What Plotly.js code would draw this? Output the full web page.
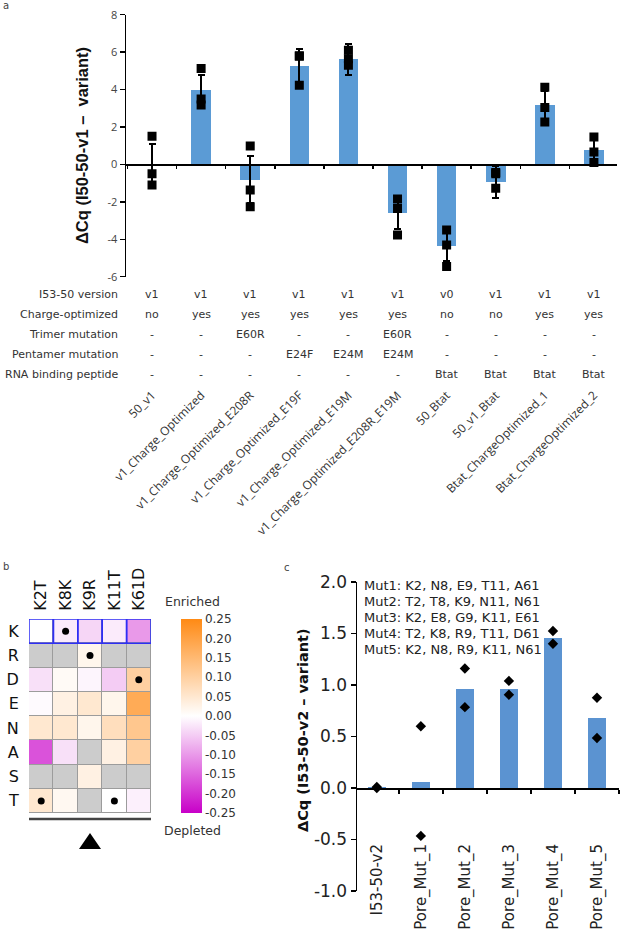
<!DOCTYPE html>
<html>
<head>
<meta charset="utf-8">
<script src="https://cdn.plot.ly/plotly-3.0.1.min.js"></script>
<style>
  html, body { margin: 0; padding: 0; background: #fff; }
  #fig { width: 621px; height: 932px; }
</style>
</head>
<body>
<div id="fig"></div>
<script>
// Panel a: qPCR dCq per construct (bars = mean, error = SD, squares = replicates)
const aNames = ["50_v1", "v1_Charge_Optimized", "v1_Charge_Optimized_E208R",
  "v1_Charge_Optimized_E19F", "v1_Charge_Optimized_E19M", "v1_Charge_Optimized_E208R_E19M",
  "50_Btat", "50_v1_Btat", "Btat_ChargeOptimized_1", "Btat_ChargeOptimized_2"];
const aMeans = [-0.03, 3.95, -0.82, 5.26, 5.62, -2.62, -4.37, -0.93, 3.15, 0.76];
const aSD    = [1.12, 0.85, 1.25, 0.93, 0.82, 0.82, 0.80, 0.87, 0.76, 0.57];
const aPoints = [
  [1.5, -0.5, -1.1],
  [5.12, 3.5, 3.18],
  [0.99, -1.37, -2.26],
  [5.78, 5.8, 4.23],
  [6.1, 5.65, 5.3],
  [-1.85, -2.35, -3.77],
  [-3.5, -4.3, -5.46],
  [-0.43, -0.5, -1.28],
  [4.12, 3.04, 2.27],
  [1.47, 0.67, 0.1],
];
const aTickVals = [-6, -4, -2, 0, 2, 4, 6, 8];
const aTickText = ["-6", "-4", "-2", "0", "2", "4", "6", "8"];

// table under panel a
const rowLabels = ["I53-50 version", "Charge-optimized", "Trimer mutation",
  "Pentamer mutation", "RNA binding peptide"];
const versionRow  = ["v1", "v1", "v1", "v1", "v1", "v1", "v0", "v1", "v1", "v1"];
const chargeRow   = ["no", "yes", "yes", "yes", "yes", "yes", "no", "no", "yes", "yes"];
const trimerRow   = ["-", "-", "E60R", "-", "-", "E60R", "-", "-", "-", "-"];
const pentamerRow = ["-", "-", "-", "E24F", "E24M", "E24M", "-", "-", "-", "-"];
const rnaRow      = ["-", "-", "-", "-", "-", "-", "Btat", "Btat", "Btat", "Btat"];

// Panel b: enrichment heatmap
const bCols = ["K2T", "K8K", "K9R", "K11T", "K61D"];
const bRows = ["K", "R", "D", "E", "N", "A", "S", "T"];
const bZ = [
  [0.0,   -0.02, -0.04,  -0.02, -0.10],
  [null,  null,   0.02,  null,  null],
  [-0.03, 0.01,  -0.01,  -0.05,  0.10],
  [-0.005, 0.03,  0.05,   0.02,  0.18],
  [0.05,  0.05,   0.02,   0.07,  0.12],
  [-0.17, -0.03,  null,   0.03,  0.10],
  [null,  null,   0.03,  null,  null],
  [0.05,  0.015,  null,   0.0,  -0.015],
];
const bDotCols = ["K8K", "K9R", "K61D", "K2T", "K11T"];
const bDotRows = ["K", "R", "D", "T", "T"];
const cbVals = [-0.25, -0.2, -0.15, -0.1, -0.05, 0, 0.05, 0.1, 0.15, 0.2, 0.25];
const cbText = ["-0.25", "-0.20", "-0.15", "-0.10", "-0.05", "0.00", "0.05", "0.10", "0.15", "0.20", "0.25"];

// Panel c: pore mutants
const cNames = ["I53-50-v2", "Pore_Mut_1", "Pore_Mut_2", "Pore_Mut_3", "Pore_Mut_4", "Pore_Mut_5"];
const cMeans = [0.005, 0.06, 0.965, 0.965, 1.46, 0.675];
const cPoints = [[0.01, 0.0], [0.6, -0.465], [1.16, 0.785], [1.04, 0.905], [1.525, 1.40], [0.876, 0.486]];
const cTickVals = [-1, -0.5, 0, 0.5, 1, 1.5, 2];
const cTickText = ["-1.0", "-0.5", "0.0", "0.5", "1.0", "1.5", "2.0"];
const mutLines = [
  "Mut1: K2, N8, E9, T11, A61",
  "Mut2: T2, T8, K9, N11, N61",
  "Mut3: K2, E8, G9, K11, E61",
  "Mut4: T2, K8, R9, T11, D61",
  "Mut5: K2, N8, R9, K11, N61",
];

const W = 621, H = 932;
const px = (x) => x / W;
const py = (y) => 1 - y / H;

const BLACK = "#000";
const TXT = "#333";
const DV = "DejaVu Sans";

// ---- panel a geometry
const aYDom = [py(276.7), py(14.7)];
const aYRange = [-6, 8];
const aZeroPos = aYDom[0] + (0 - aYRange[0]) / (aYRange[1] - aYRange[0]) * (aYDom[1] - aYDom[0]);
const aXRange = [-0.53, 9.47];

// ---- panel c geometry
const cYDom = [py(891), py(582)];
const cYRange = [-1, 2];
const cZeroPos = cYDom[0] + (0 - cYRange[0]) / (cYRange[1] - cYRange[0]) * (cYDom[1] - cYDom[0]);
const cXRange = [-0.45, 5.5];

const idx = (arr) => arr.map((_, i) => i);

const aPtsX = [], aPtsY = [];
aPoints.forEach((pts, i) => pts.forEach((v) => { aPtsX.push(aNames[i]); aPtsY.push(v); }));
const cPtsX = [], cPtsY = [];
cPoints.forEach((pts, i) => pts.forEach((v) => { cPtsX.push(cNames[i]); cPtsY.push(v); }));

const bNanMask = bZ.map((r) => r.map((v) => (v === null ? 1 : null)));
const bFull = bZ.map((r) => r.map(() => 1));

const traces = [
  // panel a
  { x: aNames, y: aMeans, type: "bar", width: 0.4, xaxis: "x", yaxis: "y",
    marker: { color: "#5b9bd5" }, hoverinfo: "skip",
    error_y: { type: "data", array: aSD, visible: true, color: BLACK, thickness: 2, width: 3.5 } },
  { x: aPtsX, y: aPtsY, type: "scatter", mode: "markers", xaxis: "x", yaxis: "y",
    marker: { symbol: "square", size: 9, color: BLACK } },
  { x: idx(aNames), y: aNames.map(() => 0), type: "scatter", mode: "markers", xaxis: "x2", yaxis: "y",
    marker: { opacity: 0 }, hoverinfo: "skip" },

  // panel b
  { x: bCols, y: bRows, z: bFull, type: "heatmap", xaxis: "x3", yaxis: "y3",
    colorscale: [[0, "#9c9c9c"], [1, "#9c9c9c"]], showscale: false, hoverinfo: "skip" },
  { x: bCols, y: bRows, z: bNanMask, type: "heatmap", xaxis: "x3", yaxis: "y3", xgap: 1, ygap: 1,
    colorscale: [[0, "#cccccc"], [1, "#cccccc"]], showscale: false, hoverinfo: "skip" },
  { x: bCols, y: bRows, z: bZ, type: "heatmap", xaxis: "x3", yaxis: "y3", xgap: 1, ygap: 1,
    zmin: -0.25, zmax: 0.25,
    colorscale: [[0, "#c800c8"], [0.5, "#ffffff"], [1, "#ff8a14"]],
    colorbar: {
      x: px(181), xanchor: "left", y: py(813), yanchor: "bottom",
      len: 194 / H, lenmode: "fraction", thickness: 21, thicknessmode: "pixels",
      xpad: 0, ypad: 0, outlinewidth: 0, ticks: "", ticklabelpad: 4,
      tickvals: cbVals, ticktext: cbText,
      tickfont: { family: DV, size: 12, color: TXT },
    } },
  { x: bDotCols, y: bDotRows, type: "scatter", mode: "markers", xaxis: "x3", yaxis: "y3",
    marker: { symbol: "circle", size: 7, color: BLACK }, hoverinfo: "skip" },

  // panel c
  { x: cNames, y: cMeans, type: "bar", width: 0.4, xaxis: "x4", yaxis: "y4",
    marker: { color: "#5b93d1" }, hoverinfo: "skip" },
  { x: cPtsX, y: cPtsY, type: "scatter", mode: "markers", xaxis: "x4", yaxis: "y4",
    marker: { symbol: "diamond", size: 8, color: BLACK } },
  { x: idx(cNames), y: cNames.map(() => 0), type: "scatter", mode: "markers", xaxis: "x5", yaxis: "y4",
    marker: { opacity: 0 }, hoverinfo: "skip" },
];

// paper-anchored text helper (explicit anchors, 'auto' would snap to sides)
const note = (text, x, y, font, xanchor = "center", extra = {}) => ({
  text, xref: "paper", yref: "paper", x: px(x), y: py(y), showarrow: false,
  xanchor, yanchor: "middle", font, ...extra });

const annotations = [];

// panel letters
[["a", 1, 5], ["b", 1, 566], ["c", 282, 567]].forEach(([t, x, y]) =>
  annotations.push(note(t, x, y, { family: DV, size: 10, color: "#444" }, "left")));

// axis titles
annotations.push(note("ΔCq (I50-50-v1 –\u00a0\u00a0variant)", 82, 146,
  { family: "Liberation Sans", size: 16.5, color: "#111", weight: "bold" }, "center", { textangle: -90 }));
annotations.push(note("ΔCq (I53-50-v2 – variant)", 303, 730,
  { family: DV, size: 14.5, color: "#111", weight: "bold" }, "center", { textangle: -90 }));

// table rows under panel a
const tableRows = [versionRow, chargeRow, trimerRow, pentamerRow, rnaRow];
const rowY = [294, 314, 334, 354, 374];
const tFont = { family: DV, size: 11, color: TXT };
tableRows.forEach((row, r) => {
  annotations.push(note(rowLabels[r], 120, rowY[r], tFont, "right"));
  row.forEach((v, i) => annotations.push({
    text: v, xref: "x", yref: "paper", x: aNames[i], y: py(rowY[r]),
    xanchor: "center", yanchor: "middle", showarrow: false, font: tFont }));
});

// heatmap colorbar captions
annotations.push(note("Enriched", 192, 601, { family: DV, size: 12.5, color: TXT }));
annotations.push(note("Depleted", 192, 830, { family: DV, size: 12.5, color: TXT }));

// mutant list in panel c
mutLines.forEach((t, i) =>
  annotations.push(note(t, 362, 585 + 16 * i, { family: DV, size: 13, color: "#222" }, "left")));

const shapes = [];
// blue outline around K row cells
bCols.forEach((_, i) => shapes.push({
  type: "rect", xref: "x3", yref: "y3", x0: i - 0.5, x1: i + 0.5, y0: -0.5, y1: 0.5,
  line: { color: "#2e2ef5", width: 1.5 } }));
// bar and triangle under heatmap
shapes.push({ type: "line", xref: "x3", yref: "paper", x0: -0.5, x1: bCols.length - 0.5,
  y0: py(819), y1: py(819), line: { color: "#444", width: 2.5 } });
shapes.push({ type: "path", xref: "paper", yref: "paper",
  path: `M ${px(79)} ${py(849)} L ${px(101)} ${py(849)} L ${px(90)} ${py(833)} Z`,
  fillcolor: BLACK, line: { color: BLACK, width: 0 } });

const noGrid = { showgrid: false, zeroline: false };

const layout = {
  width: W, height: H,
  margin: { l: 0, r: 0, t: 0, b: 0 },
  paper_bgcolor: "#fff", plot_bgcolor: "rgba(0,0,0,0)",
  showlegend: false, bargap: 0,
  font: { family: DV, color: TXT },

  // panel a
  xaxis: { ...noGrid, type: "category", domain: [px(126), px(617)], range: aXRange,
    anchor: "free", position: aZeroPos, showline: true, linecolor: BLACK, linewidth: 1.5,
    ticks: "outside", tickson: "boundaries", ticklen: 3, tickwidth: 1.5, tickcolor: BLACK,
    showticklabels: false },
  xaxis2: { ...noGrid, overlaying: "x", anchor: "free", position: py(385), range: aXRange,
    tickvals: idx(aNames), ticktext: aNames, tickangle: -45, ticks: "", showline: false,
    tickfont: { family: "Open Sans", size: 12, color: TXT } },
  yaxis: { ...noGrid, domain: aYDom, range: aYRange, anchor: "x", showline: true,
    linecolor: BLACK, linewidth: 1.5, ticks: "outside", ticklen: 5, tickwidth: 1.5, tickcolor: BLACK,
    tickvals: aTickVals, ticktext: aTickText,
    tickfont: { family: "Open Sans", size: 11, color: "#444" } },

  // panel b
  xaxis3: { ...noGrid, type: "category", domain: [px(29), px(151)], anchor: "y3", side: "top",
    range: [-0.5, bCols.length - 0.5], tickangle: -90, ticks: "outside", ticklen: 4,
    tickcolor: "rgba(0,0,0,0)", tickfont: { family: DV, size: 16, color: "#111" }, showline: false },
  yaxis3: { ...noGrid, type: "category", domain: [py(813), py(619)], anchor: "x3",
    range: [bRows.length - 0.5, -0.5], ticks: "outside", ticklen: 6,
    tickcolor: "rgba(0,0,0,0)", tickfont: { family: DV, size: 16, color: "#111" }, showline: false },

  // panel c
  xaxis4: { ...noGrid, type: "category", domain: [px(357), px(619)], range: cXRange,
    anchor: "free", position: cZeroPos, showline: true, linecolor: BLACK, linewidth: 1.5,
    ticks: "outside", tickson: "boundaries", ticklen: 4, tickwidth: 1.5, tickcolor: BLACK,
    showticklabels: false },
  xaxis5: { ...noGrid, overlaying: "x4", anchor: "free", position: py(840), range: cXRange,
    tickvals: idx(cNames), ticktext: cNames, tickangle: -90, ticks: "", showline: false,
    tickfont: { family: DV, size: 15, color: "#222" } },
  yaxis4: { ...noGrid, domain: cYDom, range: cYRange, anchor: "x4", showline: true,
    linecolor: BLACK, linewidth: 1.5, ticks: "outside", ticklen: 5, tickwidth: 1.5, tickcolor: BLACK,
    tickvals: cTickVals, ticktext: cTickText,
    tickfont: { family: DV, size: 17, color: "#222" } },

  annotations, shapes,
};

Plotly.newPlot("fig", traces, layout, { staticPlot: true, displayModeBar: false });
</script>
</body>
</html>
